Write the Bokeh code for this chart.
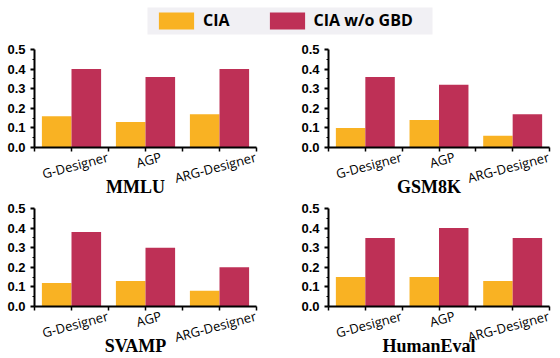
from bokeh.plotting import figure
from bokeh.layouts import column, row
from bokeh.models import (Range1d, FixedTicker, Legend, LegendItem, LinearAxis,
                          BoxAnnotation, ColumnDataSource, NumeralTickFormatter)
from bokeh.transform import dodge
from bokeh.embed import file_html
from bokeh.resources import INLINE
import math

methods = ["G-Designer", "AGP", "ARG-Designer"]
series_names = ["CIA", "CIA w/o GBD"]
datasets = ["MMLU", "GSM8K", "SVAMP", "HumanEval"]

mmlu_cia = [0.16, 0.13, 0.17]
mmlu_wo = [0.40, 0.36, 0.40]
gsm8k_cia = [0.10, 0.14, 0.06]
gsm8k_wo = [0.36, 0.32, 0.17]
svamp_cia = [0.12, 0.13, 0.08]
svamp_wo = [0.38, 0.30, 0.20]
humaneval_cia = [0.15, 0.15, 0.13]
humaneval_wo = [0.35, 0.40, 0.35]

y_ticks = [0.0, 0.1, 0.2, 0.3, 0.4, 0.5]
y_minor = [0.05, 0.15, 0.25, 0.35, 0.45]

ORANGE = "#F9B223"
CRIMSON = "#BE3056"

panel_values = {
    "MMLU": (mmlu_cia, mmlu_wo),
    "GSM8K": (gsm8k_cia, gsm8k_wo),
    "SVAMP": (svamp_cia, svamp_wo),
    "HumanEval": (humaneval_cia, humaneval_wo),
}

n = len(methods)
# category slots: method i occupies [i, i+1] on the x scale
centers = [i + 0.5 for i in range(n)]
x_marks = [i * 0.5 for i in range(2 * n + 1)]
# label anchor shift (in category widths) so rotated labels sit centred on ticks
label_shift = [0.49, 0.21, 0.49]
title_pos = 1.365


def make_panel(name, left_border, right_border):
    cia, wo = panel_values[name]
    src = ColumnDataSource(dict(xc=centers, cia=cia, wo=wo))
    p = figure(width=280, height=159, x_range=Range1d(0, n),
               y_range=Range1d(0, 0.5),
               min_border_left=left_border, min_border_right=right_border,
               min_border_top=9, min_border_bottom=52,
               output_backend="svg", toolbar_location=None)
    p.vbar(x=dodge("xc", -0.2), top="cia", width=0.4, source=src,
           fill_color=ORANGE, line_color=None)
    p.vbar(x=dodge("xc", 0.2), top="wo", width=0.4, source=src,
           fill_color=CRIMSON, line_color=None)
    p.xgrid.visible = False
    p.ygrid.visible = False
    p.outline_line_color = None

    ya = p.yaxis[0]
    ya.ticker = FixedTicker(ticks=y_ticks, minor_ticks=y_minor)
    ya.formatter = NumeralTickFormatter(format="0.0")
    ya.axis_line_width = 2
    ya.major_tick_line_width = 2
    ya.major_tick_out = 4
    ya.major_tick_in = 0
    ya.minor_tick_out = 2
    ya.minor_tick_in = 0
    ya.major_label_standoff = 5
    ya.major_label_text_font = "Liberation Sans"
    ya.major_label_text_font_style = "bold"
    ya.major_label_text_font_size = "13px"
    ya.major_label_text_color = "black"

    # main x axis: line plus short marks at group centres and boundaries
    xa = p.xaxis[0]
    xa.ticker = FixedTicker(ticks=[], minor_ticks=x_marks)
    xa.axis_line_width = 2
    xa.major_tick_out = 0
    xa.major_tick_in = 0
    xa.minor_tick_out = 4
    xa.minor_tick_in = 0
    xa.minor_tick_line_width = 1.5
    xa.minor_tick_line_color = "black"
    xa.major_label_standoff = 0

    # axis that carries the rotated method names, centred on each group
    pos = [c + s for c, s in zip(centers, label_shift)]
    la = LinearAxis(ticker=FixedTicker(ticks=pos, minor_ticks=[]),
                    major_label_overrides={v: m for v, m in zip(pos, methods)},
                    axis_line_color=None, major_tick_line_color=None,
                    minor_tick_line_color=None, major_tick_out=0, major_tick_in=0,
                    minor_tick_out=0, minor_tick_in=0, major_label_standoff=5,
                    major_label_orientation=math.radians(15),
                    major_label_text_font="Open Sans",
                    major_label_text_font_size="13px",
                    major_label_text_color="black")
    p.add_layout(la, "below")

    # axis that carries the panel title
    ta = LinearAxis(ticker=FixedTicker(ticks=[title_pos], minor_ticks=[]),
                    major_label_overrides={title_pos: name},
                    axis_line_color=None, major_tick_line_color=None,
                    minor_tick_line_color=None, major_tick_out=0, major_tick_in=0,
                    minor_tick_out=0, minor_tick_in=0, major_label_standoff=-22,
                    major_label_orientation="horizontal",
                    major_label_text_font="Liberation Serif",
                    major_label_text_font_style="bold",
                    major_label_text_font_size="18px",
                    major_label_text_color="black")
    p.add_layout(ta, "below")
    return p


p1 = make_panel("MMLU", 34, 24)
p2 = make_panel("GSM8K", 48, 11)
p3 = make_panel("SVAMP", 34, 24)
p4 = make_panel("HumanEval", 48, 11)

# legend strip
lg = figure(width=560, height=40, x_range=Range1d(0, 1), y_range=Range1d(0, 1),
            min_border=0, output_backend="svg", toolbar_location=None)
lg.axis.visible = False
lg.grid.visible = False
lg.outline_line_color = None
lg.add_layout(BoxAnnotation(left=147, right=432, bottom=6, top=33,
                            left_units="screen", right_units="screen",
                            bottom_units="screen", top_units="screen",
                            fill_color="#F1F0F4", fill_alpha=1, line_color=None))
hidden = ColumnDataSource(dict(x=[5], top=[5]))
r1 = lg.vbar(x="x", top="top", width=0.1, source=hidden, fill_color=ORANGE, line_color=None)
r2 = lg.vbar(x="x", top="top", width=0.1, source=hidden, fill_color=CRIMSON, line_color=None)
legend = Legend(items=[LegendItem(label=series_names[0], renderers=[r1]),
                       LegendItem(label=series_names[1], renderers=[r2])],
                location=(154, 9), orientation="horizontal",
                glyph_width=44, glyph_height=21, padding=0, spacing=35,
                label_standoff=5, background_fill_alpha=0, border_line_color=None,
                label_text_font="Open Sans", label_text_font_style="bold",
                label_text_font_size="16px", label_text_color="black",
                margin=0)
lg.add_layout(legend)

layout = column(lg, row(p1, p2), row(p3, p4))
open("out.html", "w").write(file_html(layout, INLINE))
